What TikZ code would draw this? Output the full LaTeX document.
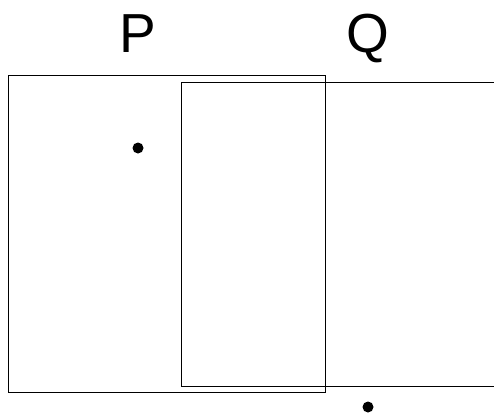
\documentclass[tikz,border=0pt]{standalone}
\usepackage{fontspec}
\setmainfont{Liberation Sans}
\usetikzlibrary{positioning}

\tikzset{
  setbox/.style={draw=black, line width=0.8pt, fill=none},
  setlabel/.style={font=\fontsize{55}{55}\selectfont, inner sep=0pt, anchor=base},
  point/.style={circle, fill=black, inner sep=0pt, minimum size=11pt}
}

\begin{document}
\begin{tikzpicture}[x=1pt, y=-1pt]

  \useasboundingbox (0,0) rectangle (494,415);
  \clip (0,0) rectangle (494,415);

  % the two sets
  \draw[setbox] (8,75) rectangle (325,392);
  \draw[setbox] (181,82) rectangle (530,386.5);

  % labels
  \node[setlabel] (labelP) at (138,52) {P};
  \node[setlabel] (labelQ) at (368,52) {Q};

  % points
  \node[point] (ptP) at (138,148) {};
  \node[point] (ptQ) at (368,407) {};

\end{tikzpicture}
\end{document}
